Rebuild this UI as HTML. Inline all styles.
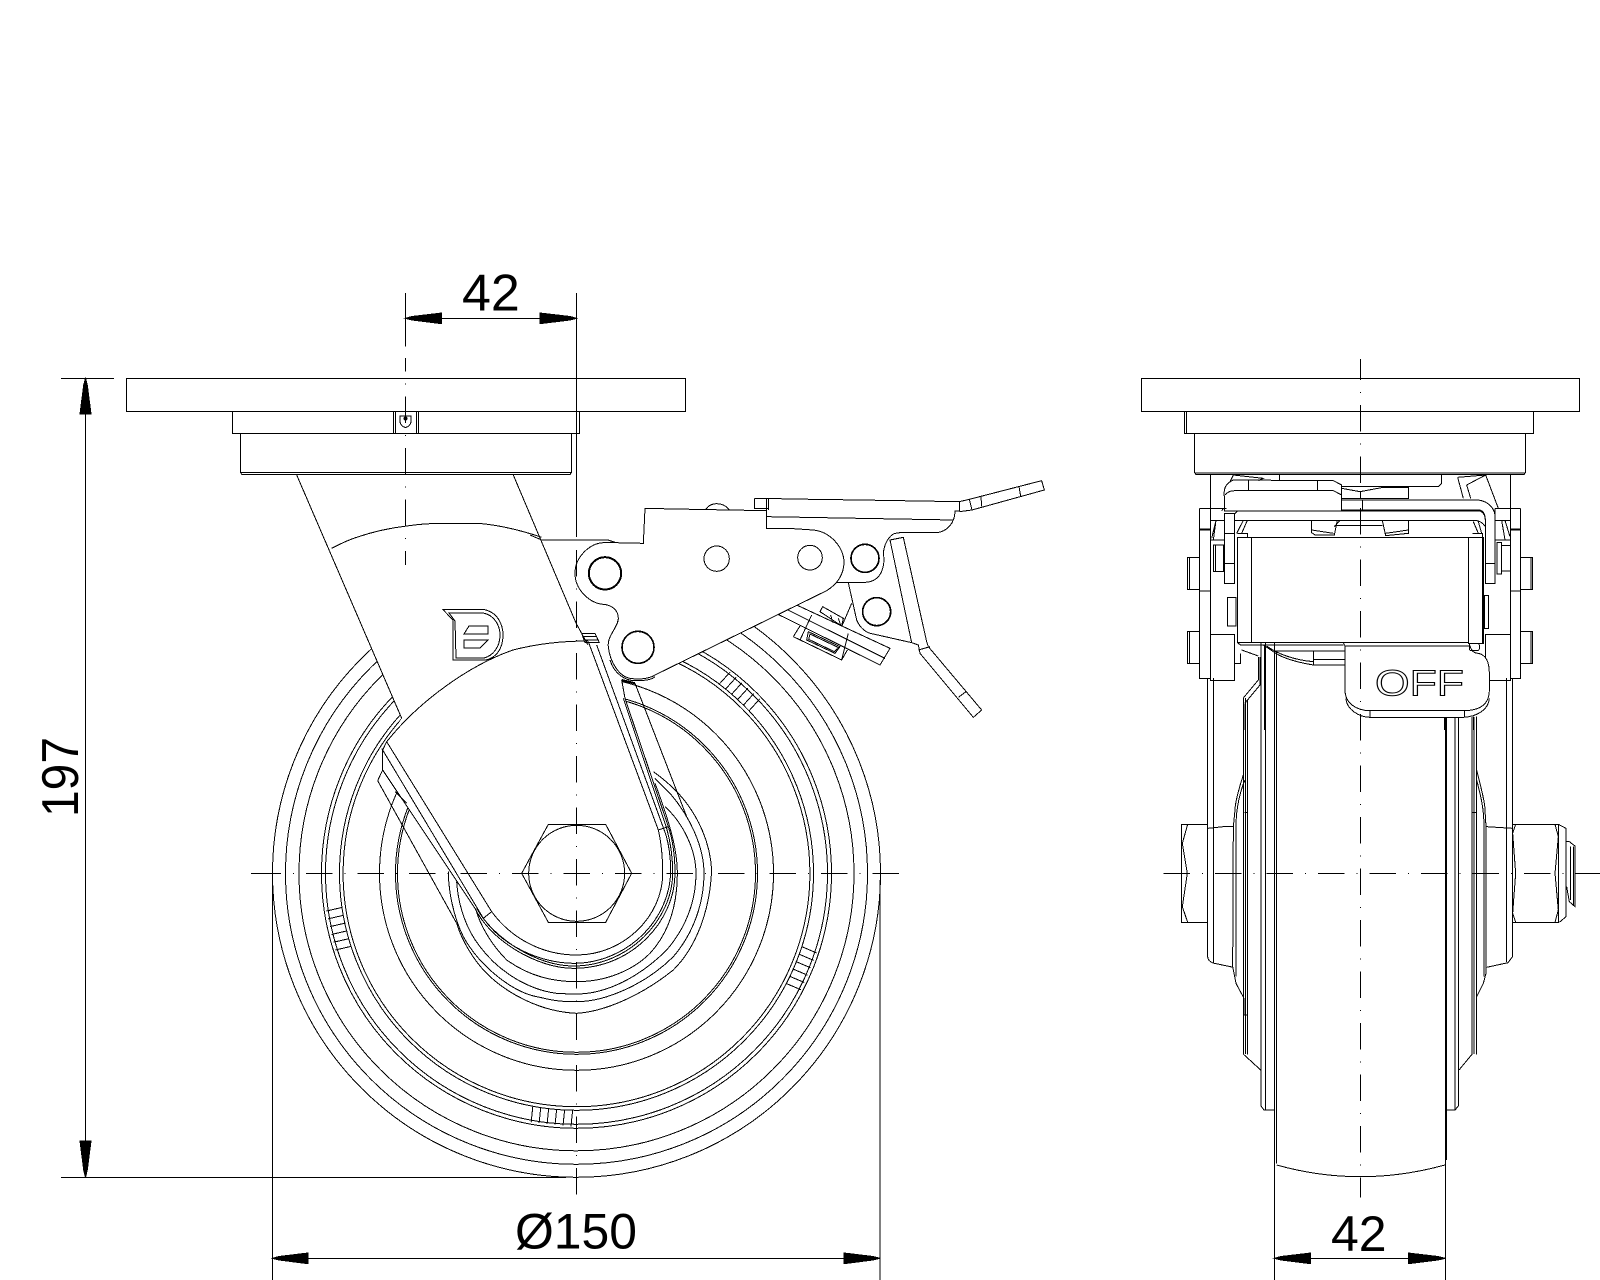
<!DOCTYPE html>
<html><head><meta charset="utf-8"><title>Caster drawing</title>
<style>
html,body{margin:0;padding:0;background:#fff}
svg{display:block}
svg *{vector-effect:non-scaling-stroke}
text{font-family:"Liberation Sans",sans-serif;fill:#000;stroke:none}
.cl{stroke-dasharray:26.5 12 1 12}
.w{fill:#fff}
</style></head><body>
<svg xmlns="http://www.w3.org/2000/svg" width="1600" height="1280" viewBox="0 0 1600 1280" fill="none" stroke="#000" stroke-width="1" shape-rendering="crispEdges">
<rect x="0" y="0" width="1600" height="1280" fill="#fff" stroke="none"/>

<!-- LEFT VIEW: wheel -->
<g>
<circle cx="576.5" cy="873.3" r="304"/><circle cx="576.5" cy="873.3" r="291"/><circle cx="576.5" cy="873.3" r="277.5"/>
<circle cx="576.5" cy="873.3" r="255"/><circle cx="576.5" cy="873.3" r="251"/><circle cx="576.5" cy="873.3" r="237"/><circle cx="576.5" cy="873.3" r="233.4"/>
<circle cx="576.5" cy="873.3" r="197"/><circle cx="576.5" cy="873.3" r="181"/><circle cx="576.5" cy="873.3" r="179"/>
</g>
<g transform="rotate(42 576.5 873.3)"><path d="M556,621V637M564,621V637M572,621V637M580,621V637M588,621V637M596,621V637"/></g>
<g transform="rotate(185.9 576.5 873.3)"><path d="M556,621V637M564,621V637M572,621V637M580,621V637M588,621V637M596,621V637"/></g>
<g transform="rotate(257 576.5 873.3)"><path d="M556,621V637M564,621V637M572,621V637M580,621V637M588,621V637M596,621V637"/></g>
<g transform="rotate(113 576.5 873.3)"><path d="M556,621V637M564,621V637M572,621V637M580,621V637M588,621V637M596,621V637"/></g>

<!-- fork fill -->
<polygon points="296.7,473 401.7,718.3 386.7,741.7 592,645 513.3,473" fill="#fff" stroke="none"/>
<polygon points="541,537 640,537 640,660 618,680 590,650 576,623" fill="#fff" stroke="none"/>

<!-- hub loops, zoom3 coords -->
<g transform="translate(340,640) scale(0.33333)">
<path d="M113,422L350,850C365,900 400,960 440,1000C500,1060 600,1115 710,1120C790,1115 900,1070 1000,990C1070,920 1110,810 1115,690C1110,600 1070,530 1040,490C1010,450 975,420 940,395"/>
<path d="M113,422L128,390"/>
<path d="M325,695C325,750 340,830 370,890C420,980 520,1060 600,1072C650,1085 680,1085 710,1085C800,1085 920,1030 1000,950C1060,880 1092,790 1092,700C1092,620 1050,530 990,460L945,415"/>
<path d="M350,725C355,800 380,870 420,920C480,1000 570,1050 650,1060C680,1062 700,1062 710,1062C800,1062 900,1010 980,930C1040,860 1068,780 1068,700C1068,630 1030,550 975,500"/>
<path d="M405,800C420,860 460,920 500,960C570,1010 640,1025 710,1025C800,1025 880,990 930,940C985,880 1012,800 1012,700C1012,630 990,550 945,430"/>
<path class="w" d="M128,390L405,805C450,900 590,985 700,985C880,985 1005,840 1005,700C1005,630 995,590 985,560L855,175L845,120L745,5L140,305L125,325Z" stroke="none"/>
<path d="M128,390V330L140,305"/>
<path d="M128,390L405,805C450,900 590,985 700,985C880,985 1005,840 1005,700C1005,630 995,590 985,560L855,175L845,120"/>
<path d="M410,805C460,895 590,978 700,978C870,978 998,835 998,700C998,640 990,600 980,565L850,175"/>
<path d="M125,325L430,835C490,920 600,968 700,970C860,970 992,840 992,690C992,640 985,610 978,585L770,15"/>
<path d="M140,305L455,815C510,890 600,945 710,945C850,945 968,830 968,700C968,640 962,600 955,570L745,5"/>
<path d="M430,835L455,815M955,570L985,560"/>
<path d="M885,130L1040,530"/>
<path d="M845,120L885,130" stroke-width="2"/>
<path d="M113,422L128,390"/>
<path d="M165,455L200,490"/>
<!-- nut -->
<polygon points="545,700 625,553 797,553 875,700 797,847 625,847"/>
<circle cx="710" cy="700" r="144"/>
</g>

<!-- fork -->
<path d="M296.7,475L401.7,718.3"/>
<path d="M513.3,475L576,623L588,645"/>
<path d="M386.7,741.7C420,700 470,665 513,650C540,643 565,641 588,641"/>
<path d="M331.7,548.3C340,544 348,540 356.7,537.3C372,532 390,528 406.7,526C420,524 432,523.3 443.3,523.3H478.3C498,525 520,530 541.7,537.3"/>
<path d="M530,535L541.7,540H608L616,542.7"/>

<!-- logo -->
<path d="M442.7,609.3H483C498,612 503,625 503,635C503,650 495,658 486,660H453V620Z"/>
<path d="M455,621L449,613H483C494,615 500,625 500,635C500,648 492,656 484,658H456Z"/>
<path d="M464,634L469,626H488V634Z"/>
<path d="M464,640H488L480,648H464Z"/>

<!-- mechanism, zoom coords -->
<g transform="translate(760,590) scale(0.33333)">
<path d="M110,45L390,175L360,225L52,72"/>
<path d="M80,58L375,205"/>
<path d="M155,75L120,150M100,140L120,108M100,140L245,210L262,180M265,130L245,210"/>
<path d="M145,125L240,170L225,190L140,150Z" stroke-width="1"/>
<path d="M150,132L236,173L223,185L146,148Z"/>
<path d="M188,50L250,85L245,108L180,65Z"/>
<path d="M212,75L218,97M235,85L242,105"/>
</g>

<!-- lever, zoom2 coords -->
<g transform="translate(540,460) scale(0.33333)">
<path d="M1050,240L1090,232L1160,545L1165,560L1325,750L1300,772L1140,580L1135,555L1115,548Z"/>
<path d="M1135,570L1170,560M1255,712L1278,695"/>
<path d="M925,368L950,480C960,505 980,520 1000,522L1115,548"/>
<path d="M935,430L905,500"/>
<path d="M498,148C510,125 550,125 568,150"/>
<path class="w" d="M225,248L310,250L315,145L405,147L680,152V205H745L820,210C870,215 910,260 912,305C912,340 895,370 860,392L345,645C330,655 300,660 270,655C240,650 210,610 205,560C200,530 235,500 235,475C235,450 215,435 190,433C150,430 105,390 105,340C105,290 150,250 190,248Z"/>
<path d="M210,600C222,640 255,664 290,662C315,662 335,660 345,650"/>
<circle cx="195" cy="340" r="47"/><circle cx="195" cy="340" r="50"/>
<circle cx="530" cy="296" r="38"/><circle cx="810" cy="293" r="37"/>
<circle cx="294" cy="562" r="47"/><circle cx="294" cy="562" r="49"/>
<circle cx="975" cy="295" r="41"/><circle cx="975" cy="295" r="43"/>
<circle cx="1010" cy="455" r="41"/><circle cx="1010" cy="455" r="43"/>
<path d="M890,367H975C1030,365 1035,310 1030,280C1032,260 1040,235 1060,222C1080,215 1100,218 1190,218C1220,215 1245,190 1245,153H1258"/>
<path d="M643,115H680L750,117L960,120L1258,125V155"/>
<path d="M643,115V145H685M680,115V205M685,115V150M680,170L960,175L1240,180"/>
<path d="M1258,125L1288,118L1505,62L1513,90L1296,150L1258,155"/>
<path d="M1288,118L1296,150M1323,110L1325,140M1437,80L1442,108"/>
<path d="M125,520H165L178,548H135ZM130,530H170M135,540H175"/>
</g>

<!-- base -->
<rect x="126.3" y="378.3" width="559" height="33" class="w"/>
<rect x="232.3" y="411.3" width="347.4" height="22" class="w"/>
<path class="w" d="M240.3,433.3H571.7V472L570,474.5H242L240.3,472Z"/>
<path d="M241,472.5H571"/>
<path d="M393.5,411.3V433.3M395.5,411.3V433.3M416.5,411.3V433.3M418.5,411.3V433.3"/>
<path d="M400,416H411V421C411,425 408,427 405.5,427.5C403,427 400,425 400,421Z"/>
<circle cx="405.5" cy="418.5" r="1.5" fill="#000"/>

<!-- centre lines left -->
<line x1="405.3" y1="293" x2="405.3" y2="346.7"/>
<line class="cl" x1="405.3" y1="358" x2="405.3" y2="565" stroke-dashoffset="13"/>
<line x1="576.5" y1="293" x2="576.5" y2="537"/>
<line class="cl" x1="576.5" y1="550" x2="576.5" y2="1197.7"/>
<line class="cl" x1="254.3" y1="873.3" x2="901" y2="873.3"/>
<line x1="251" y1="873.3" x2="256" y2="873.3"/>

<!-- dims left -->
<line x1="405.3" y1="318.3" x2="576.5" y2="318.3"/>
<polygon fill="#000" points="405.3,318.3 412,316.5 441.7,313 441.7,323.7 412,320"/>
<polygon fill="#000" points="576.5,318.3 570,316.5 540,313 540,323.7 570,320"/>
<text x="462" y="310.6" font-size="52">42</text>

<line x1="61" y1="378.3" x2="114" y2="378.3"/>
<line x1="61" y1="1177.3" x2="566" y2="1177.3"/>
<line x1="85.5" y1="378.3" x2="85.5" y2="1177.3"/>
<polygon fill="#000" points="85.5,378.3 83.7,385 80,414 91,414 87.3,385"/>
<polygon fill="#000" points="85.5,1177.3 83.7,1170 80,1141 91,1141 87.3,1170"/>
<text transform="translate(78,817) rotate(-90)" font-size="52" textLength="80" lengthAdjust="spacingAndGlyphs">197</text>

<line x1="272.5" y1="880" x2="272.5" y2="1280"/>
<line x1="880" y1="880" x2="880" y2="1280"/>
<line x1="272.5" y1="1258.3" x2="880" y2="1258.3"/>
<polygon fill="#000" points="272.5,1258.3 279,1256.5 308,1253 308,1263.7 279,1260"/>
<polygon fill="#000" points="880,1258.3 873,1256.5 844,1253 844,1263.7 873,1260"/>
<text x="515" y="1248.7" font-size="50" textLength="122" lengthAdjust="spacingAndGlyphs">&#216;150</text>

<!-- RIGHT VIEW lower, real coords -->
<path d="M1274.3,643V1163.3M1276.7,657V1163.3M1445.3,717V1163.3M1446.3,717V1160"/>
<path d="M1276.7,1165Q1360,1188.4 1445,1165"/>
<path d="M1261,643V1106L1264,1110H1274M1265.7,643V1110"/>
<path d="M1455,717V1110H1445M1458.3,717V1106L1455,1110"/>
<path d="M1243.5,698V1054.3L1260.7,1070M1247.3,700V1054.3" />
<path d="M1245.5,698V1054" />
<path d="M1243.3,698L1258.3,680V657M1245,703L1260,685V657"/>
<path d="M1472,717V1054.3L1459,1070M1476.7,717V1054.3M1474,717V1054"/>
<path d="M1207.7,678V957Q1208,961 1213,963L1233.3,967.3M1213.3,678V963"/>
<path d="M1512.3,678V957L1508,962.7L1486.7,967.3M1506.7,678V962"/>

<!-- hub/bolts zoom5 coords -->
<g transform="translate(1150,720) scale(0.33333)">
<path d="M280,165C268,200 255,250 255,270L250,320L248,740L258,790L282,835V885H292"/>
<path d="M285,180C272,210 258,260 258,320V770"/>
<path d="M283,277H292"/>
<path d="M980,150C995,210 1005,250 1005,270L1008,320V760L1000,790L980,830"/>
<path d="M980,180C990,220 1002,260 1002,320V770"/>
<path d="M968,277H978"/>
<path d="M173,313H95V607H173"/>
<path d="M113,313L97,370L112,460L97,560L113,607"/>
<path d="M173,325L220,320H250"/>
<path d="M1010,320L1040,322L1088,325"/>
<path d="M1088,313H1225V607H1088"/>
<path d="M1225,313L1248,325V590L1228,607"/>
<path d="M1097,313L1088,340L1097,460L1088,580L1097,607M1215,313L1225,350L1215,460L1225,570L1215,607"/>
<path d="M1250,365L1258,365L1275,378V560L1258,545L1250,500"/>
<path d="M1262,380V540M1270,380V555"/>
</g>

<!-- Right upper zoom4 coords -->
<g transform="translate(1130,370) scale(0.33333)">
<path d="M241,315V451M1141,315V451"/>
<path d="M283,380C280,350 290,340 310,330L610,332L635,345V423"/>
<path d="M285,375C295,365 300,362 320,362H610L635,375"/>
<path d="M355,332V362M562,332V362M635,385V423"/>
<path d="M310,315L300,335M310,315L400,325L385,332M448,315V332"/>
<path d="M935,315V340L925,350H635"/>
<path d="M635,355L690,365L760,352H835V385H635"/>
<path d="M692,365V385M835,350V385"/>
<path d="M983,322L1067,315L1105,415M983,322L1000,385M1010,345L1067,315M1010,345L1022,385"/>
<path d="M635,390H1045C1080,395 1095,420 1095,440V640H1066"/>
<path d="M635,420H1050C1065,425 1066,440 1066,450V640"/>
<path d="M697,392V420"/>
<path d="M283,380V423H635"/>
<path d="M208,415H290M1172,415H1095"/>
<path d="M208,415V925H241M1172,415V925H1141"/>
<path d="M208,478H241" stroke-width="2"/>
<path d="M1141,478H1172" stroke-width="2"/>
<path d="M208,663H241M1141,663H1172"/>
<path d="M241,451V932H314V793H241"/>
<path d="M1141,451V932H1066V793H1141"/>
<path d="M241,451H283M1095,451H1141"/>
<path d="M1095,415V451"/>
<path d="M241,510H283M1095,510H1141M1115,527H1141M1115,603H1141"/>
<path d="M250,510L258,451M280,415L275,423M245,505L258,451M1125,510L1115,451M1140,500L1125,451"/>
<path d="M320,490L340,451M335,490L352,451M1030,455L1045,490M1045,455L1055,490"/>
<rect x="250" y="525" width="30" height="80"/><path d="M256,525V605"/>
<rect x="293" y="683" width="25" height="85"/>
<rect x="1101" y="517" width="14" height="95"/>
<rect x="1063" y="677" width="12" height="98"/>
<path d="M172,562H208V658H172ZM178,562V658"/>
<path d="M172,784H208V880H172ZM178,784V880"/>
<path d="M1172,562H1208V658H1172ZM1203,562V658"/>
<path d="M1172,784H1208V880H1172ZM1203,784V880"/>
<path d="M335,840L385,858M332,850V880H314"/>
<path d="M545,451V488L555,495L613,495L622,451M757,451L767,497L835,490V451M613,467H757M622,451L613,495"/>
<path d="M613,470L630,451M545,480L610,490M767,490L835,480"/>
<path d="M322,490H352V502M1028,490H1058V502"/>
<path class="w" d="M322,502H1060V820H1015V818H640V818H322Z"/>
<path d="M365,502V818M1015,502V818"/>
<path d="M1057,502V820"/>
<path d="M283,430L313,432L323,423H1050C1062,428 1066,440 1066,450"/>
<path d="M313,451H1030C1050,451 1060,460 1066,470"/>
<path class="w" d="M283,430H313V640H283Z"/>
<path d="M283,490H313M283,580H313"/>
<path class="w" d="M1066,580H1095V640H1066Z"/>
<path d="M322,818L332,825H640"/>
<path d="M400,825L430,845C450,860 490,875 550,885H645"/>
<path d="M410,828C440,850 490,870 550,875"/>
<path d="M435,843H645M550,843V885M550,868H645"/>
<path d="M393,825V1080M403,825V1080M433,845V1080M440,845V1080"/>
<path d="M975,1042V1080M985,1042V1080M1030,1040V1080M1040,1040V1080"/>
<path d="M232,925V1080M250,925V1080M1130,925V1080M1147,925V1080"/>
<path d="M945,1042V1080" stroke-width="2"/>
<path d="M340,985V1080M345,1000V1080" />
<path class="w" d="M645,828H1020C1025,845 1035,850 1045,850C1070,855 1078,880 1078,910V960C1078,1010 1040,1022 1000,1022H720C680,1022 645,1000 645,960Z"/>
<path d="M648,985C650,1020 690,1042 720,1042H1000C1040,1040 1075,1020 1078,985"/>
<path d="M720,1022V1042M1003,1022V1042"/>
<rect x="1018" y="820" width="30" height="22" rx="6"/>
<path d="M640,818L645,828"/>
</g>
<text x="1375" y="695.5" font-size="36" textLength="89" lengthAdjust="spacingAndGlyphs" style="fill:#fff;stroke:#000;stroke-width:1">OFF</text>

<!-- base right -->
<rect x="1141.3" y="378.3" width="438.4" height="33" class="w"/>
<rect x="1184.3" y="411.3" width="349.4" height="22" class="w"/>
<path d="M1186.5,411.3V433.3"/>
<path class="w" d="M1194.3,433.3H1525.7V472L1524,474.5H1196L1194.3,472Z"/>
<path d="M1195,473H1525"/>

<!-- centre lines right -->
<line class="cl" x1="1360.3" y1="359" x2="1360.3" y2="1197.3" stroke-dashoffset="5.5"/>
<line class="cl" x1="1163.5" y1="873.3" x2="1600" y2="873.3"/>

<!-- dim right -->
<line x1="1274.3" y1="1163" x2="1274.3" y2="1280"/>
<line x1="1445.3" y1="1163" x2="1445.3" y2="1280"/>
<line x1="1274.3" y1="1258.3" x2="1445.3" y2="1258.3"/>
<polygon fill="#000" points="1274.3,1258.3 1281,1256.5 1310.7,1253 1310.7,1263.7 1281,1260"/>
<polygon fill="#000" points="1445.3,1258.3 1438,1256.5 1408.3,1253 1408.3,1263.7 1438,1260"/>
<text x="1331" y="1251" font-size="50">42</text>
</svg>
</body></html>
